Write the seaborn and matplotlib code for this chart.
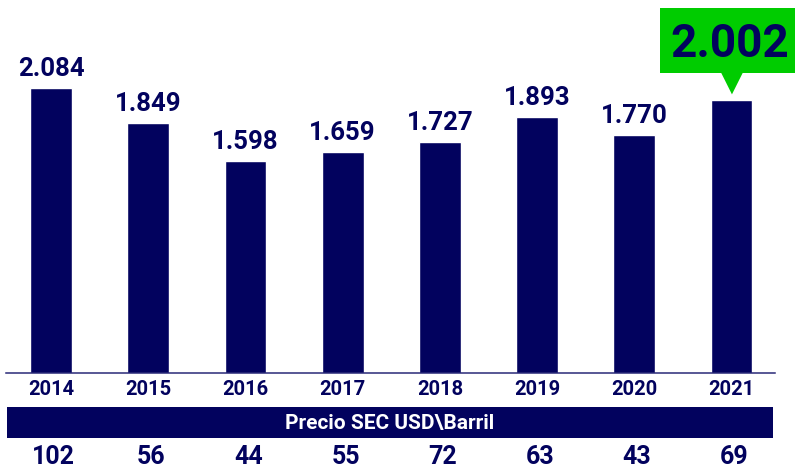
import matplotlib
matplotlib.use("Agg")
import matplotlib.pyplot as plt
import seaborn as sns
from matplotlib.patches import Rectangle, Polygon
from matplotlib.transforms import Affine2D, ScaledTranslation

# Data
years = ['2014', '2015', '2016', '2017', '2018', '2019', '2020', '2021']
produccion = [2084, 1849, 1598, 1659, 1727, 1893, 1770, 2002]
precio = [102, 56, 44, 55, 72, 63, 43, 69]
band_label = 'Precio SEC USD\\Barril'

NAVY = '#02025E'
GREEN = '#00CC00'

sns.set_style('white')
plt.rcParams['font.family'] = ['Roboto', 'DejaVu Sans']
plt.rcParams['font.weight'] = 'bold'

W, H = 795, 469
fig = plt.figure(figsize=(W / 100, H / 100), dpi=100)


def box(x0, y0, x1, y1):
    # pixel box (top-left origin) -> figure fraction
    return [x0 / W, 1 - y1 / H, (x1 - x0) / W, (y1 - y0) / H]


ax = fig.add_axes(box(6, 0, 775, 373))
sns.barplot(x=years, y=produccion, color=NAVY, saturation=1, width=0.43, ax=ax)

ax.set_xlim(-0.463, 7.448)
ax.set_ylim(188, 2670)
ax.set_xlabel('')
ax.set_ylabel('')
ax.set_yticks([])
ax.tick_params(axis='x', length=0, pad=5, labelsize=14.5, labelcolor=NAVY)
for lbl in ax.get_xticklabels():
    lbl.set_fontweight('bold')
for side in ['top', 'left', 'right']:
    ax.spines[side].set_visible(False)
ax.spines['bottom'].set_color('#2a2a78')
ax.spines['bottom'].set_linewidth(1.1)

# value labels above bars (last one goes in the green callout)
for i, v in enumerate(produccion[:-1]):
    ax.annotate(f"{v:,}".replace(',', '.'), (i, v), xytext=(0, 12),
                textcoords='offset pixels', ha='center', va='baseline',
                fontsize=18.5, fontweight='bold', color=NAVY)

# green callout for the last year, anchored on the bar top (pixel offsets)
last = len(produccion) - 1
anchor = Affine2D() + ScaledTranslation(last, produccion[last], ax.transData)
ax.add_patch(Rectangle((-71.5, 27), 140, 65, transform=anchor,
                       facecolor=GREEN, edgecolor='none', clip_on=False))
ax.add_patch(Polygon([(-10.5, 28), (11.5, 28), (0.5, 6)], closed=True,
                     transform=anchor, facecolor=GREEN, edgecolor='none',
                     clip_on=False))
ax.text(-2, 43, f"{produccion[last]:,}".replace(',', '.'), transform=anchor,
        ha='center', va='baseline', fontsize=33, fontweight='bold',
        color=NAVY, clip_on=False)

# navy band with the price caption
band = fig.add_axes(box(7, 407, 773, 438))
band.set_facecolor(NAVY)
band.set_xticks([])
band.set_yticks([])
for s in band.spines.values():
    s.set_visible(False)
band.text(0.5, 0.47, band_label, transform=band.transAxes, ha='center',
          va='center', fontsize=15, fontweight='bold', color='white')

# price row
prow = fig.add_axes(box(6, 438, 775, 469))
prow.set_xlim(ax.get_xlim())
prow.set_ylim(0, 1)
prow.axis('off')
for i, p in enumerate(precio):
    prow.text(i + 0.03, 0.39, str(p), ha='center', va='center',
              fontsize=18, fontweight='bold', color=NAVY)

fig.savefig('out.png', dpi=100)
